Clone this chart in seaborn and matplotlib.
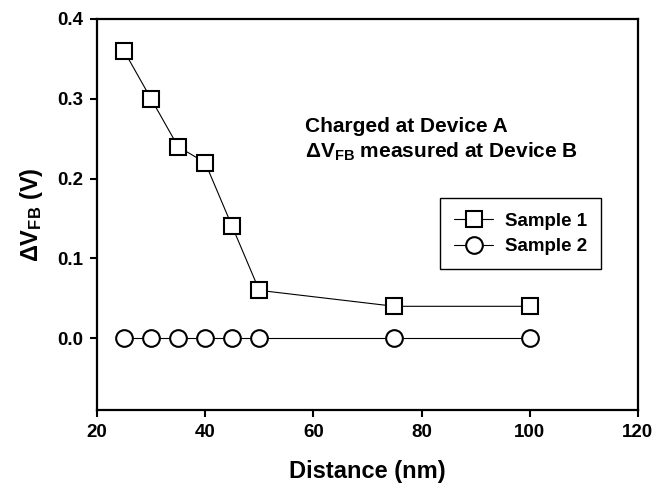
import matplotlib
matplotlib.use("Agg")
import matplotlib.pyplot as plt
import seaborn as sns

# data
distance_s1 = [25, 30, 35, 40, 45, 50, 75, 100]
dvfb_s1 = [0.36, 0.30, 0.24, 0.22, 0.14, 0.06, 0.04, 0.04]
distance_s2 = [25, 30, 35, 40, 45, 50, 75, 100]
dvfb_s2 = [0.0, 0.0, 0.0, 0.0, 0.0, 0.0, 0.0, 0.0]
x_ticks = [20, 40, 60, 80, 100, 120]
y_ticks = [0.0, 0.1, 0.2, 0.3, 0.4]

sns.set_style("ticks")
plt.rcParams['font.family'] = ['Liberation Sans', 'DejaVu Sans']
plt.rcParams['font.weight'] = 'bold'
plt.rcParams['text.color'] = 'black'
plt.rcParams['axes.labelcolor'] = 'black'
plt.rcParams['mathtext.fontset'] = 'custom'
plt.rcParams['mathtext.rm'] = 'Liberation Sans:bold'
plt.rcParams['mathtext.it'] = 'Liberation Sans:bold'
plt.rcParams['mathtext.bf'] = 'Liberation Sans:bold'

fig = plt.figure(figsize=(6.67, 4.87), dpi=100)
ax = fig.add_axes([0.1454, 0.158, 0.811, 0.803])

marker_kw = dict(color='black', linewidth=0.8, markersize=12,
                 markerfacecolor='white', markeredgecolor='black',
                 markeredgewidth=1.5)
sns.lineplot(x=distance_s1, y=dvfb_s1, marker='s', label='Sample 1', ax=ax, **marker_kw)
sns.lineplot(x=distance_s2, y=dvfb_s2, marker='o', label='Sample 2', ax=ax, **marker_kw)

ax.set_xlim(20, 120)
ax.set_ylim(-0.09, 0.4)
ax.set_xticks(x_ticks)
ax.set_yticks(y_ticks)
ax.set_xticklabels([str(t) for t in x_ticks])
ax.set_yticklabels([f"{t:.1f}" for t in y_ticks])
ax.tick_params(direction='out', length=5, width=1.5, pad=5, labelsize=13.5,
               colors='black', labelcolor='black')
for s in ax.spines.values():
    s.set_visible(True)
    s.set_linewidth(1.6)
    s.set_color('black')

ax.set_xlabel("Distance (nm)", fontsize=17, fontweight='bold', labelpad=14)
ax.set_ylabel(r"$\Delta$V$_{FB}$ (V)", fontsize=17, fontweight='bold', labelpad=9)

ax.text(0.384, 0.712, "Charged at Device A", transform=ax.transAxes,
        fontsize=15, fontweight='bold', va='baseline')
ax.text(0.384, 0.645, r"$\Delta$V$_{FB}$ measured at Device B", transform=ax.transAxes,
        fontsize=15, fontweight='bold', va='baseline')

leg = ax.legend(loc='upper left', bbox_to_anchor=(0.634, 0.541), borderaxespad=0,
                fancybox=False, framealpha=1, edgecolor='black', fontsize=13.5,
                handlelength=2.1, handletextpad=0.6, borderpad=0.75, labelspacing=0.45)
leg.get_frame().set_linewidth(1.0)

fig.savefig("out.png", dpi=100)
